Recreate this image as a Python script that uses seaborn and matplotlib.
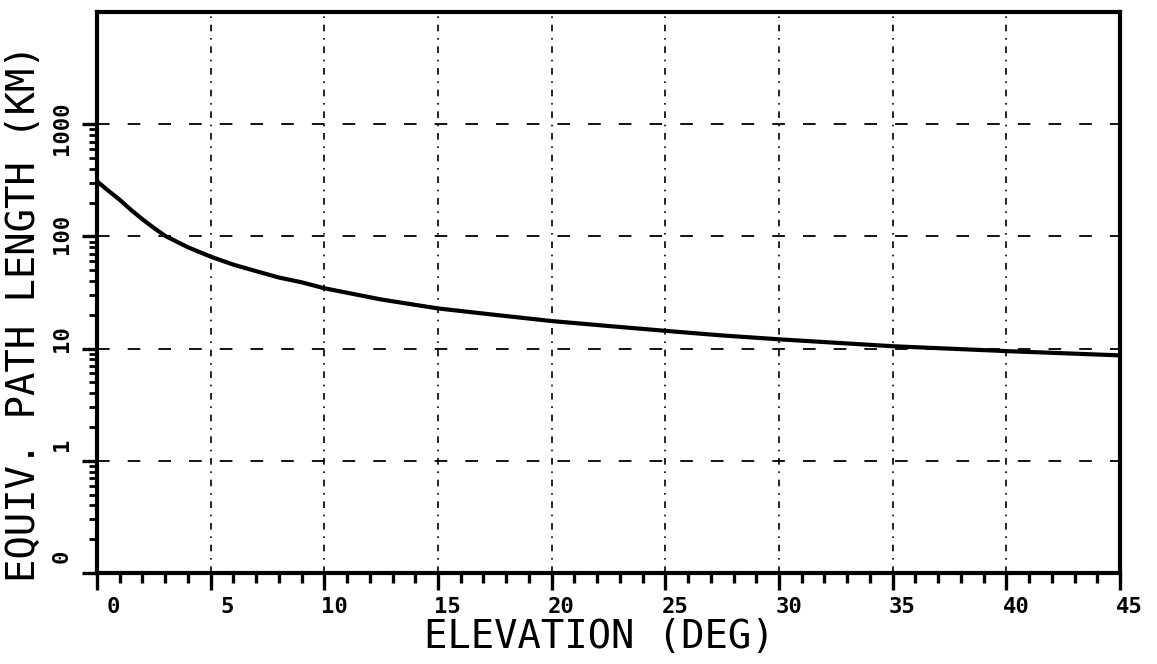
import numpy as np
import pandas as pd
import matplotlib
matplotlib.use("Agg")
import matplotlib.pyplot as plt
from matplotlib.transforms import ScaledTranslation
from matplotlib.ticker import FixedLocator, NullFormatter
import seaborn as sns

# Equivalent path length versus elevation angle
elevation_deg = [0, 0.5, 1, 1.5, 2, 2.5, 3, 4, 5, 6, 7, 8, 9, 10, 12.5, 15, 17.5, 20,
                 22.5, 25, 27.5, 30, 35, 40, 45]
path_length_km = [310, 255, 212, 172, 142, 119, 101, 80, 66, 56, 49, 43, 39, 34.5, 27.4,
                  22.8, 20.0, 17.6, 15.9, 14.4, 13.1, 12.1, 10.5, 9.5, 8.7]

x_ticks = [0, 5, 10, 15, 20, 25, 30, 35, 40, 45]
x_tick_labels = ["0", "5", "10", "15", "20", "25", "30", "35", "40", "45"]
y_ticks = [0.1, 1, 10, 100, 1000]
y_tick_labels = ["0", "1", "10", "100", "1000"]
x_grid = [5, 10, 15, 20, 25, 30, 35, 40]
y_grid = [1, 10, 100, 1000]

sns.set_style("white")
plt.rcParams["font.family"] = ["DejaVu Sans Mono", "DejaVu Sans"]
plt.rcParams["text.color"] = "black"
plt.rcParams["axes.labelcolor"] = "black"
plt.rcParams["xtick.color"] = "black"
plt.rcParams["ytick.color"] = "black"

df = pd.DataFrame({"elevation": elevation_deg, "path": path_length_km})

fig = plt.figure(figsize=(11.57, 6.64), dpi=100)
ax = fig.add_axes([97 / 1157, 91 / 664, 1023 / 1157, 561 / 664])

for xv in x_grid:
    ax.axvline(xv, color="black", lw=1.2, linestyle=(0, (4, 4, 1, 4)), zorder=1)
for yv in y_grid:
    ax.axhline(yv, color="black", lw=1.3, linestyle=(0, (7, 10)), zorder=1)

sns.lineplot(data=df, x="elevation", y="path", ax=ax, color="black", lw=3, zorder=3)

ax.set_yscale("log")
ax.set_xlim(0, 45)
ax.set_ylim(0.1, 1e4)

for side in ["left", "right", "top", "bottom"]:
    ax.spines[side].set_visible(True)
    ax.spines[side].set_linewidth(3)
    ax.spines[side].set_color("black")

# x axis ticks: majors every 5 deg, minors every degree, pointing outward
ax.set_xticks(x_ticks)
ax.set_xticklabels(x_tick_labels)
ax.xaxis.set_minor_locator(FixedLocator(np.arange(0, 46, 1)))
ax.tick_params(axis="x", which="major", bottom=True, direction="out", length=12,
               width=2.4, pad=5, labelsize=16, colors="black")
ax.tick_params(axis="x", which="minor", bottom=True, direction="out", length=7, width=2.4)

# y axis ticks: decades plus 2..9 minors
ax.yaxis.set_major_locator(FixedLocator(y_ticks))
ax.set_yticklabels(y_tick_labels)
minor_y = [m * d for d in [0.1, 1, 10, 100] for m in range(2, 10)]
ax.yaxis.set_minor_locator(FixedLocator(minor_y))
ax.yaxis.set_minor_formatter(NullFormatter())
ax.tick_params(axis="y", which="major", left=True, direction="out", length=11,
               width=2.4, pad=7, labelsize=16, colors="black")
ax.tick_params(axis="y", which="minor", left=True, direction="out", length=6, width=2.0)

shift_x = ScaledTranslation(23 / 100, 0, fig.dpi_scale_trans)
for lbl in ax.get_xticklabels():
    lbl.set_fontweight("bold")
    lbl.set_horizontalalignment("right")
    lbl.set_transform(lbl.get_transform() + shift_x)

shift_y = ScaledTranslation(0, 23 / 100, fig.dpi_scale_trans)
for lbl in ax.get_yticklabels():
    lbl.set_fontweight("bold")
    lbl.set_rotation(90)
    lbl.set_horizontalalignment("right")
    lbl.set_verticalalignment("top")
    lbl.set_transform(lbl.get_transform() + shift_y)

ax.set_xlabel("ELEVATION (DEG)", fontsize=28, va="center", color="black")
ax.xaxis.set_label_coords(0.491, -0.114)
ax.set_ylabel("EQUIV. PATH LENGTH (KM)", fontsize=28, va="center", color="black")
ax.yaxis.set_label_coords(-0.0714, 0.464)

fig.savefig("out.png", dpi=100, facecolor="white")
